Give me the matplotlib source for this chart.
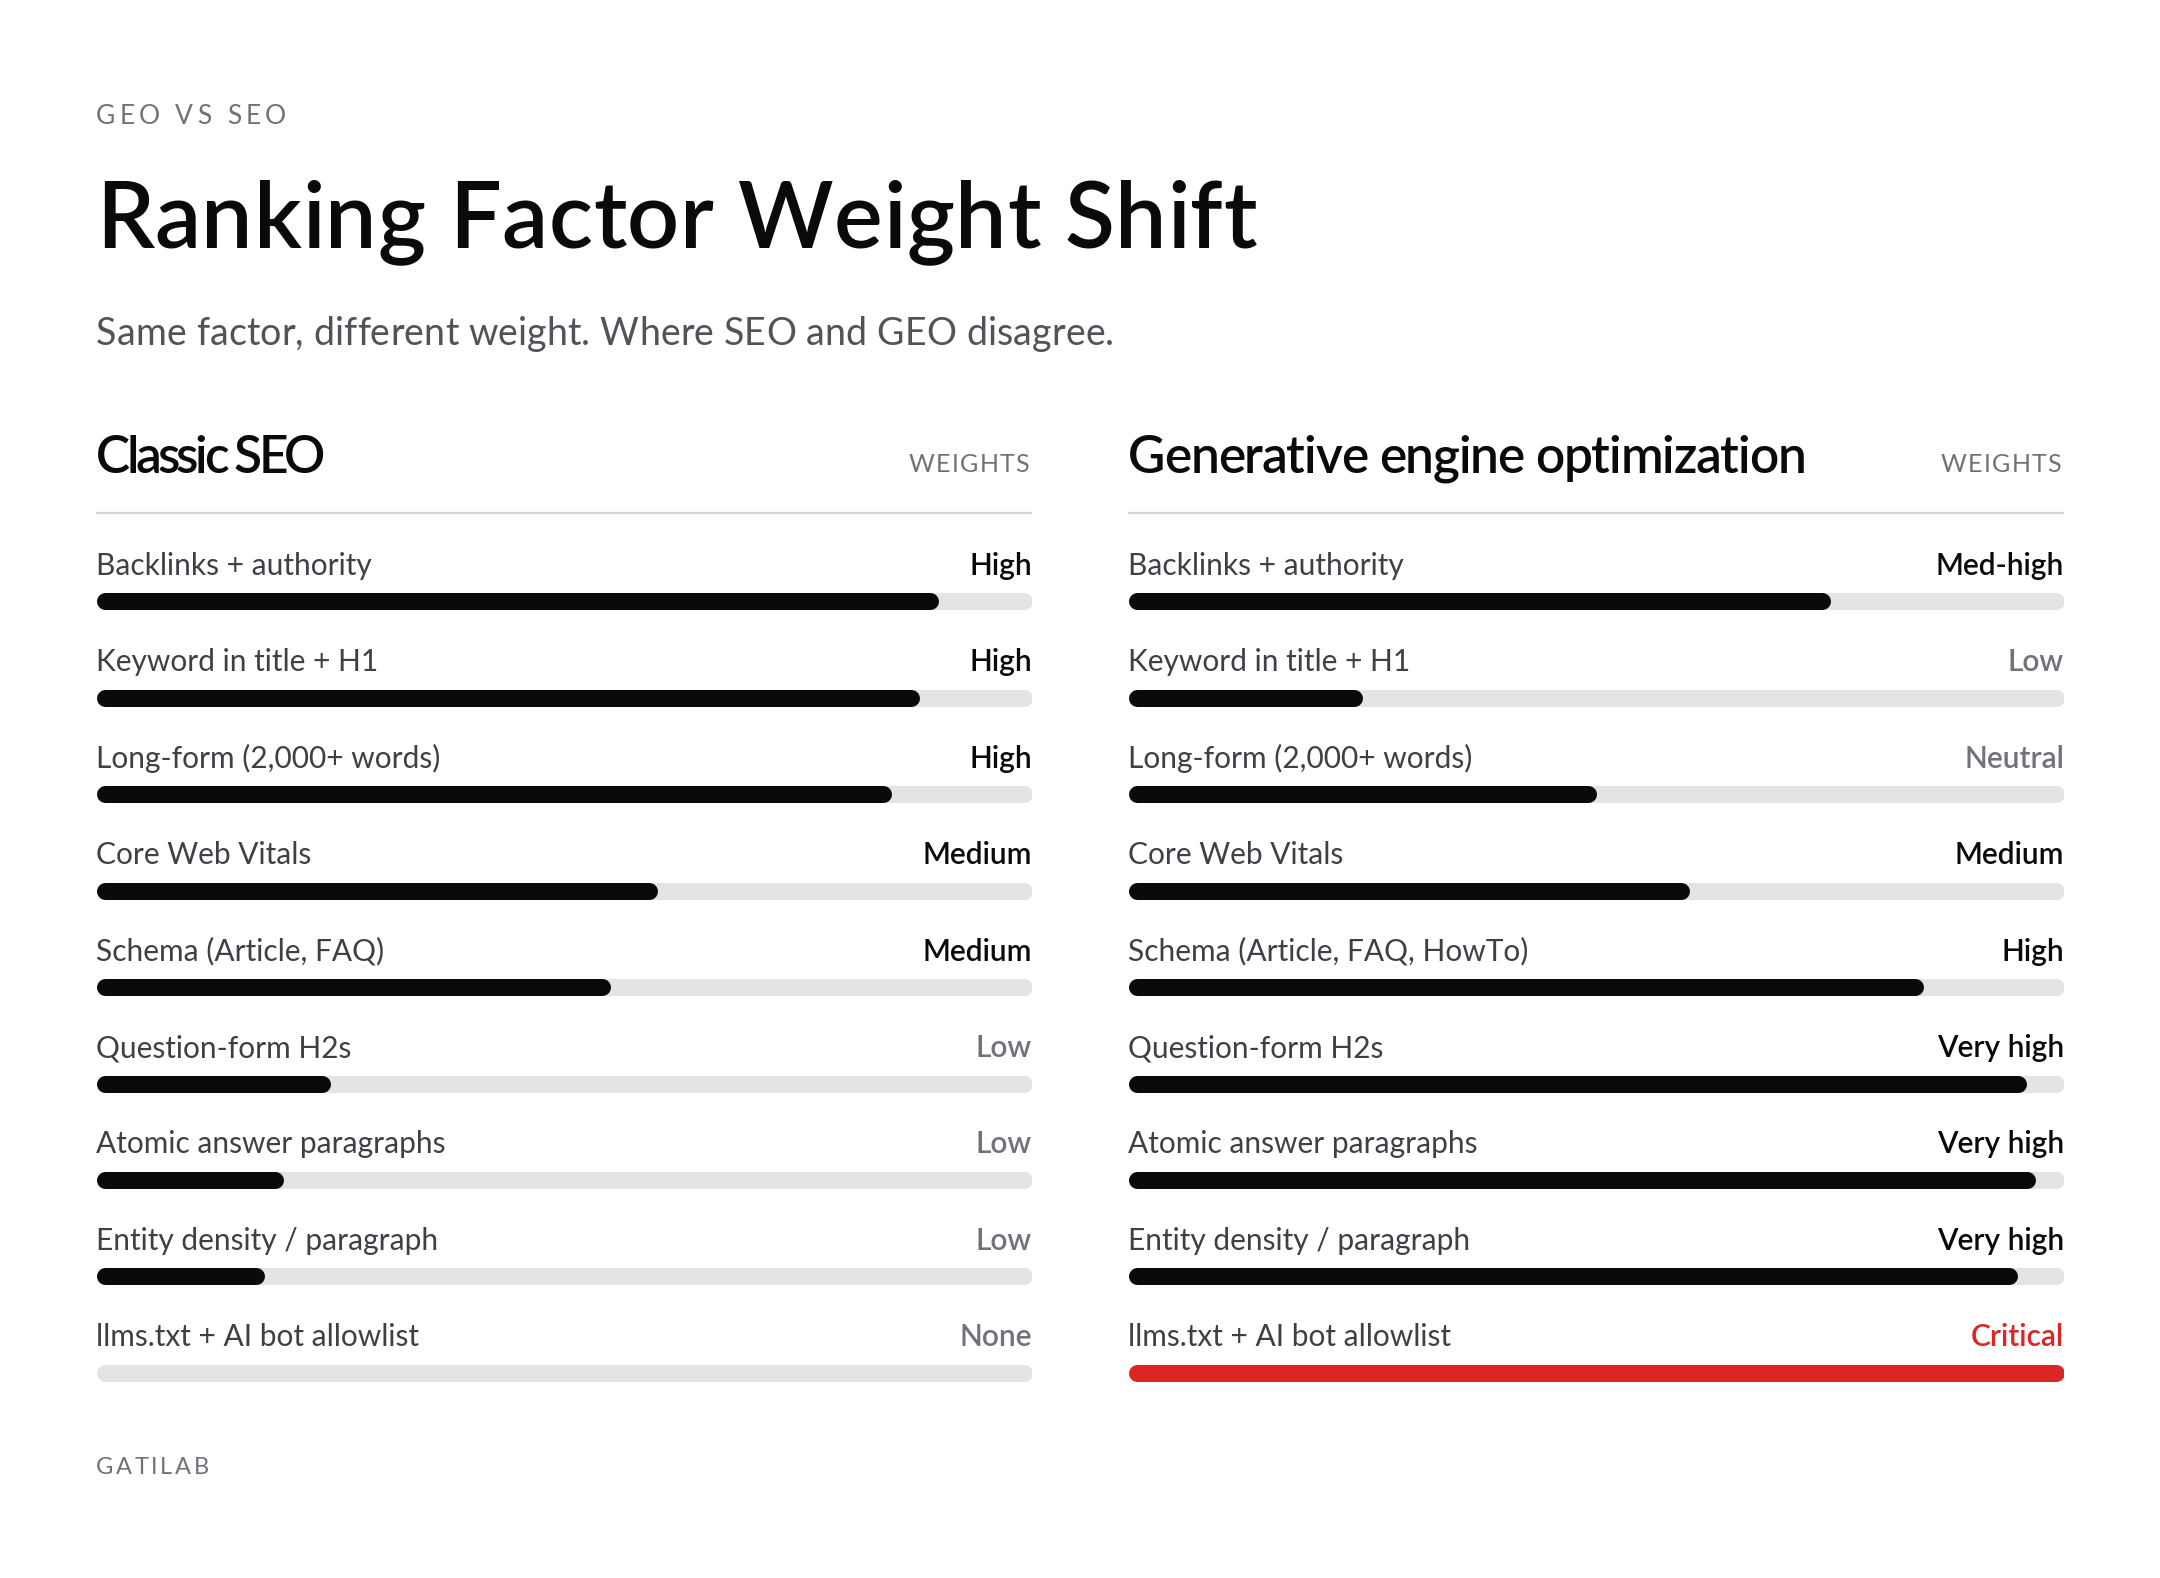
import matplotlib
matplotlib.use("Agg")
import matplotlib.pyplot as plt
from matplotlib import font_manager as fm
from matplotlib.ft2font import FT2Font

# ---------------- data ----------------
seo_factors = ["Backlinks + authority", "Keyword in title + H1", "Long-form (2,000+ words)",
               "Core Web Vitals", "Schema (Article, FAQ)", "Question-form H2s",
               "Atomic answer paragraphs", "Entity density / paragraph", "llms.txt + AI bot allowlist"]
seo_weights = [0.90, 0.88, 0.85, 0.60, 0.55, 0.25, 0.20, 0.18, 0.0]
seo_levels = ["High", "High", "High", "Medium", "Medium", "Low", "Low", "Low", "None"]

geo_factors = ["Backlinks + authority", "Keyword in title + H1", "Long-form (2,000+ words)",
               "Core Web Vitals", "Schema (Article, FAQ, HowTo)", "Question-form H2s",
               "Atomic answer paragraphs", "Entity density / paragraph", "llms.txt + AI bot allowlist"]
geo_weights = [0.75, 0.25, 0.50, 0.60, 0.85, 0.96, 0.97, 0.95, 1.0]
geo_levels = ["Med-high", "Low", "Neutral", "Medium", "High", "Very high", "Very high", "Very high", "Critical"]

muted_levels = ["Low", "Neutral", "None"]
accent_levels = ["Critical"]

kicker = "GEO VS SEO"
title = "Ranking Factor Weight Shift"
subtitle = "Same factor, different weight. Where SEO and GEO disagree."
panel_titles = ["Classic SEO", "Generative engine optimization"]
panel_tag = "WEIGHTS"
footer = "GATILAB"

# ---------------- style ----------------
W, H, DPI = 2160, 1578, 100
FAMILY = "Lato"
INK = "#0a0a0a"
LABEL = "#3f3f46"
MUTED = "#71717a"
SUB = "#52525b"
TRACK = "#e4e4e7"
RULE = "#d4d4d8"
RED = "#dc2626"

plt.rcParams["font.family"] = [FAMILY, "DejaVu Sans"]

fig = plt.figure(figsize=(W / DPI, H / DPI), dpi=DPI)
fig.patch.set_facecolor("white")
canvas = fig.add_axes([0, 0, 1, 1])
canvas.set_xlim(0, W)
canvas.set_ylim(H, 0)
canvas.axis("off")

_font_cache = {}


def _font(weight):
    if weight not in _font_cache:
        path = fm.findfont(fm.FontProperties(family=FAMILY, weight=weight))
        _font_cache[weight] = FT2Font(path, hinting_factor=1)
    return _font_cache[weight]


def advances(s, size, weight):
    f = _font(weight)
    f.set_size(size, DPI)
    return [f.load_char(ord(c)).linearHoriAdvance / 65536 for c in s]


def tracked(x, y, s, size, weight="normal", color=INK, width=None, tracking=0.0, align="left"):
    adv = advances(s, size, weight)
    natural = sum(adv)
    if width is not None and len(s) > 1:
        tracking = (width - natural) / (len(s) - 1)
    total = natural + tracking * (len(s) - 1)
    if align == "right":
        x = x - total
    pen = x
    for c, a in zip(s, adv):
        if c != " ":
            canvas.text(pen, y, c, fontsize=size, fontweight=weight, color=color,
                        ha="left", va="baseline", family=[FAMILY, "DejaVu Sans"])
        pen += a + tracking


# ---------------- header ----------------
tracked(96, 124, kicker, 19, "normal", MUTED, width=190)
tracked(96, 248, title, 66, "semibold", INK, width=1161)
tracked(96, 345, subtitle, 27, "normal", SUB, width=1018)

PANEL_X = [96, 1128]
PANEL_W = 936
HEAD_W = [229, 678]
TOP, BOTTOM = 512, 1400
ROW0_LABEL, ROW0_BAR, PITCH = 575, 601.5, 96.4
BAR_PX = 17
LABEL_PT = 21.5

panels = [(seo_factors, seo_weights, seo_levels), (geo_factors, geo_weights, geo_levels)]

for p, (factors, weights, levels) in enumerate(panels):
    x0 = PANEL_X[p]
    tracked(x0, 473, panel_titles[p], 37, "semibold", INK, width=HEAD_W[p])
    tracked(x0 + PANEL_W - 3, 472, panel_tag, 18, "normal", MUTED, width=120, align="right")
    canvas.plot([x0, x0 + PANEL_W], [513, 513], color=RULE, lw=1.6, solid_capstyle="butt")

    ax = fig.add_axes([x0 / W, (H - BOTTOM) / H, PANEL_W / W, (BOTTOM - TOP) / H])
    ax.set_xlim(0, 1)
    ax.set_ylim(BOTTOM, TOP)
    ax.axis("off")
    r = (BAR_PX / 2) / PANEL_W
    lw = BAR_PX * 72 / DPI
    for i, (name, val, lev) in enumerate(zip(factors, weights, levels)):
        yb = ROW0_BAR + i * PITCH
        yl = ROW0_LABEL + i * PITCH
        accent = lev in accent_levels
        ax.plot([r, 1 - r], [yb, yb], color=TRACK, lw=lw, solid_capstyle="round")
        if val > 0:
            ax.plot([r, max(val - r, r)], [yb, yb], color=RED if accent else INK,
                    lw=lw, solid_capstyle="round")
        ax.text(0, yl, name, fontsize=LABEL_PT, color=LABEL, ha="left", va="baseline")
        vcol = RED if accent else (MUTED if lev in muted_levels else INK)
        ax.text(1, yl, lev, fontsize=LABEL_PT, fontweight="semibold", color=vcol,
                ha="right", va="baseline")

tracked(96, 1474, footer, 17, "normal", MUTED, width=113)

fig.savefig("out.png", dpi=DPI, facecolor="white")
